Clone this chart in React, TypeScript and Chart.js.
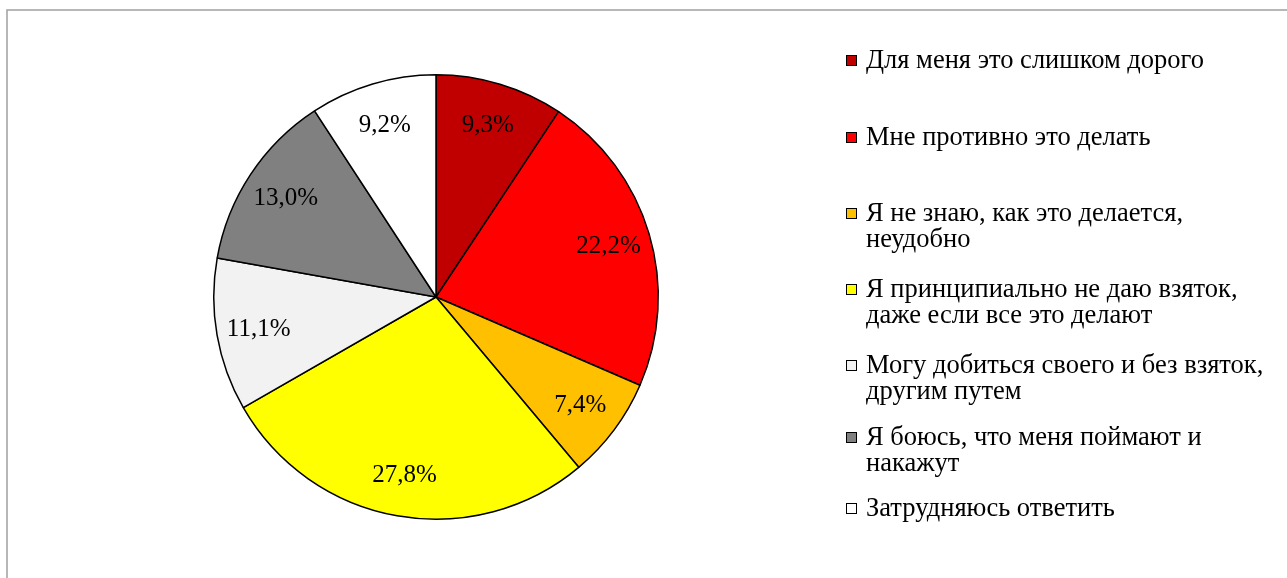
import React, { useEffect, useRef } from "react";
import { Chart, registerables } from "chart.js";

Chart.register(...registerables);

const categories: string[][] = [
  ["Для меня это слишком дорого"],
  ["Мне противно это делать"],
  ["Я не знаю, как это делается,", "неудобно"],
  ["Я принципиально не даю взяток,", "даже если все это делают"],
  ["Могу добиться своего и без взяток,", "другим путем"],
  ["Я боюсь, что меня поймают и", "накажут"],
  ["Затрудняюсь ответить"],
];
const values: number[] = [9.3, 22.2, 7.4, 27.8, 11.1, 13.0, 9.2];
const colors: string[] = ["#C00000", "#FF0000", "#FFC000", "#FFFF00", "#F2F2F2", "#808080", "#FFFFFF"];

const FONT = '"Liberation Serif", "Times New Roman", serif';
const LABEL_FONT_SIZE = 25;
const LEGEND_FONT_SIZE = 26.5;
const LEGEND_X = 846;
const LEGEND_ROW_Y = [60, 137, 213, 289, 365, 437, 508];
const LINE_H = 26.5;

const fmt = (v: number) => v.toFixed(1).replace(".", ",") + "%";

const framePlugin = {
  id: "frame",
  beforeDraw(chart: any) {
    const ctx = chart.ctx;
    ctx.save();
    ctx.fillStyle = "#ffffff";
    ctx.fillRect(0, 0, chart.width, chart.height);
    ctx.strokeStyle = "#a0a0a0";
    ctx.lineWidth = 1.5;
    ctx.strokeRect(7, 10, chart.width + 20, chart.height + 20);
    ctx.restore();
  },
};

const labelsPlugin = {
  id: "sliceLabels",
  afterDatasetsDraw(chart: any) {
    const ctx = chart.ctx;
    const meta = chart.getDatasetMeta(0);
    ctx.save();
    ctx.font = `${LABEL_FONT_SIZE}px ${FONT}`;
    ctx.fillStyle = "#000";
    ctx.textAlign = "center";
    ctx.textBaseline = "middle";
    meta.data.forEach((arc: any, i: number) => {
      const p = arc.getProps(["x", "y", "startAngle", "endAngle", "outerRadius"], true);
      const mid = (p.startAngle + p.endAngle) / 2;
      const r = p.outerRadius * 0.81;
      ctx.fillText(fmt(values[i]), p.x + Math.cos(mid) * r, p.y + Math.sin(mid) * r + 1);
    });
    ctx.restore();
  },
};

const legendPlugin = {
  id: "customLegend",
  afterDraw(chart: any) {
    const ctx = chart.ctx;
    ctx.save();
    ctx.font = `${LEGEND_FONT_SIZE}px ${FONT}`;
    ctx.textBaseline = "middle";
    ctx.textAlign = "left";
    categories.forEach((lines, i) => {
      const y = LEGEND_ROW_Y[i];
      ctx.fillStyle = colors[i];
      ctx.fillRect(LEGEND_X, y - 5, 10, 10);
      ctx.strokeStyle = "#000";
      ctx.lineWidth = 1;
      ctx.strokeRect(LEGEND_X + 0.5, y - 4.5, 10, 10);
      ctx.fillStyle = "#000";
      lines.forEach((ln, j) => {
        ctx.fillText(ln, LEGEND_X + 20, y + 1 + j * LINE_H);
      });
    });
    ctx.restore();
  },
};

export default function App() {
  const ref = useRef<HTMLCanvasElement | null>(null);
  useEffect(() => {
    if (!ref.current) return;
    const chart = new Chart(ref.current, {
      type: "pie",
      data: {
        labels: categories,
        datasets: [
          {
            data: values,
            backgroundColor: colors,
            borderColor: "#000000",
            borderWidth: 1.5,
          },
        ],
      },
      options: {
        responsive: false,
        animation: false,
        layout: { padding: { left: 213, right: 628, top: 74, bottom: 58 } },
        plugins: {
          legend: { display: false },
          tooltip: { enabled: false },
        },
      },
      plugins: [framePlugin, labelsPlugin, legendPlugin],
    });
    return () => chart.destroy();
  }, []);
  return (
    <div style={{ position: "absolute", left: 0, top: 0, width: 1287, height: 578 }}>
      <canvas ref={ref} width={1287} height={578} style={{ display: "block" }} />
    </div>
  );
}
